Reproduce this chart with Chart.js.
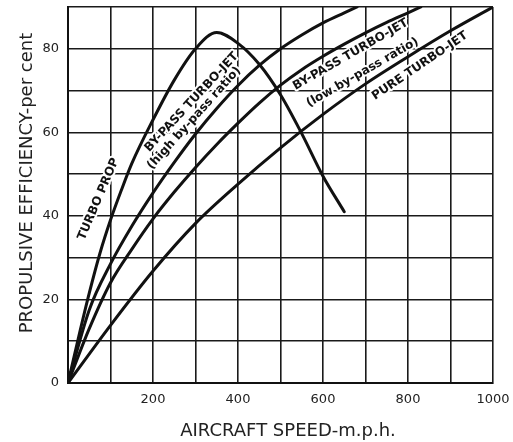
<!DOCTYPE html>
<html>
<head>
<meta charset="utf-8">
<script src="https://cdn.jsdelivr.net/npm/chart.js@4.4.1/dist/chart.umd.min.js"></script>
<style>
  body { margin: 0; background: #fff; }
  #box { width: 513px; height: 442px; }
</style>
</head>
<body>
<div id="box"><canvas id="grafico"></canvas></div>
<script>
// aircraft speed (m.p.h.) and propulsive efficiency (per cent)
const turboPropSpeed = [0, 25, 50, 75, 100, 125, 150, 200, 250, 300, 350, 400, 450, 500, 550, 600, 650];
const turboPropEff   = [0, 11, 21.5, 31, 39, 46, 52.5, 63, 72.5, 80, 83.9, 81.3, 76.3, 69, 59.7, 49.5, 41];

const highBypassSpeed = [0, 50, 100, 150, 200, 250, 300, 350, 400, 450, 500, 550, 600, 650, 680];
const highBypassEff   = [0, 17.5, 28.5, 37.5, 45.5, 52.8, 59.6, 65.7, 71.2, 76, 80, 83.3, 86.2, 88.6, 90];

const lowBypassSpeed = [0, 50, 100, 150, 200, 250, 300, 350, 400, 450, 500, 550, 600, 650, 700, 750, 800, 830];
const lowBypassEff   = [0, 13, 24, 32, 39.3, 45.7, 51.6, 57.1, 62.2, 67, 71.3, 75, 78.2, 81.1, 83.8, 86.3, 88.6, 90];

const pureJetSpeed = [0, 100, 200, 300, 400, 500, 600, 700, 800, 900, 1000];
const pureJetEff   = [0, 13.8, 26.8, 38.2, 47.6, 56.3, 64.3, 71.6, 78.1, 84.3, 90];

const xTickLabels = [200, 400, 600, 800, 1000];
const yTickLabels = [0, 20, 40, 60, 80];

// text written along the curves (speed, efficiency, angle in degrees)
const curveLabels = [
    { text: 'TURBO PROP', x: 72, y: 44, angle: -67 },
    { text: 'BY-PASS TURBO-JET', x: 291, y: 67.2, angle: -47 },
    { text: '(high by-pass ratio)', x: 297, y: 63.4, angle: -48 },
    { text: 'BY-PASS TURBO-JET', x: 665, y: 78.6, angle: -30 },
    { text: '(low by-pass ratio)', x: 693, y: 74.3, angle: -30 },
    { text: 'PURE TURBO-JET', x: 828, y: 75.9, angle: -34 },
];

function pontos(xs, ys) {
    return xs.map((v, i) => ({ x: v, y: ys[i] }));
}

function serie(xs, ys) {
    return {
        data: pontos(xs, ys),
        borderColor: '#111',
        borderWidth: 3,
        pointRadius: 0,
        cubicInterpolationMode: 'monotone',
        borderCapStyle: 'round',
        borderJoinStyle: 'round',
        fill: false,
    };
}

const labelPlugin = {
    id: 'curveLabels',
    beforeDatasetsDraw(chart) {
        const ctx = chart.ctx;
        const xs = chart.scales.x, ys = chart.scales.y;
        ctx.save();
        ctx.font = 'bold 12px "DejaVu Sans"';
        ctx.textAlign = 'center';
        ctx.textBaseline = 'middle';
        ctx.lineJoin = 'round';
        curveLabels.forEach(l => {
            ctx.save();
            ctx.translate(xs.getPixelForValue(l.x), ys.getPixelForValue(l.y));
            ctx.rotate(l.angle * Math.PI / 180);
            ctx.strokeStyle = '#fff';
            ctx.lineWidth = 4;
            ctx.strokeText(l.text, 0, 0);
            ctx.fillStyle = '#111';
            ctx.fillText(l.text, 0, 0);
            ctx.restore();
        });
        ctx.restore();
    }
};

// axis titles, placed like in the original drawing
const titlePlugin = {
    id: 'axisTitles',
    afterDraw(chart) {
        const ctx = chart.ctx;
        ctx.save();
        ctx.font = '18px "DejaVu Sans"';
        ctx.fillStyle = '#222';
        ctx.textAlign = 'center';
        ctx.textBaseline = 'middle';
        ctx.fillText('AIRCRAFT SPEED-m.p.h.', 288, 431);
        ctx.translate(27, 183);
        ctx.rotate(-Math.PI / 2);
        ctx.fillText('PROPULSIVE EFFICIENCY-per cent', 0, 0);
        ctx.restore();
    }
};

function criarGrafico() {
    var contexto = document.getElementById('grafico').getContext('2d');
    new Chart(contexto, {
        type: 'line',
        data: {
            datasets: [
                serie(turboPropSpeed, turboPropEff),
                serie(highBypassSpeed, highBypassEff),
                serie(lowBypassSpeed, lowBypassEff),
                serie(pureJetSpeed, pureJetEff),
            ],
        },
        options: {
            responsive: true,
            maintainAspectRatio: false,
            animation: false,
            layout: { padding: { top: 7, right: 20, left: 0, bottom: 0 } },
            plugins: {
                legend: { display: false },
                tooltip: { enabled: false },
            },
            scales: {
                x: {
                    type: 'linear',
                    min: 0,
                    max: 1000,
                    afterFit: s => { s.height = 59; s.paddingLeft = 0; s.paddingRight = 0; },
                    ticks: {
                        stepSize: 100,
                        autoSkip: false,
                        maxRotation: 0,
                        padding: 9,
                        color: '#222',
                        font: { family: 'DejaVu Sans', size: 13 },
                        callback: v => xTickLabels.includes(v) ? v : '',
                    },
                    grid: { color: '#1a1a1a', lineWidth: 1.6, drawTicks: false },
                    border: { color: '#111', width: 2 },
                },
                y: {
                    min: 0,
                    max: 90,
                    afterFit: s => { s.width = 68; s.paddingTop = 0; s.paddingBottom = 0; },
                    ticks: {
                        stepSize: 10,
                        autoSkip: false,
                        padding: 9,
                        color: '#222',
                        font: { family: 'DejaVu Sans', size: 13 },
                        callback: v => yTickLabels.includes(v) ? v : '',
                    },
                    grid: { color: '#1a1a1a', lineWidth: 1.6, drawTicks: false },
                    border: { color: '#111', width: 2 },
                },
            },
        },
        plugins: [labelPlugin, titlePlugin],
    });
}

criarGrafico();
</script>
</body>
</html>
